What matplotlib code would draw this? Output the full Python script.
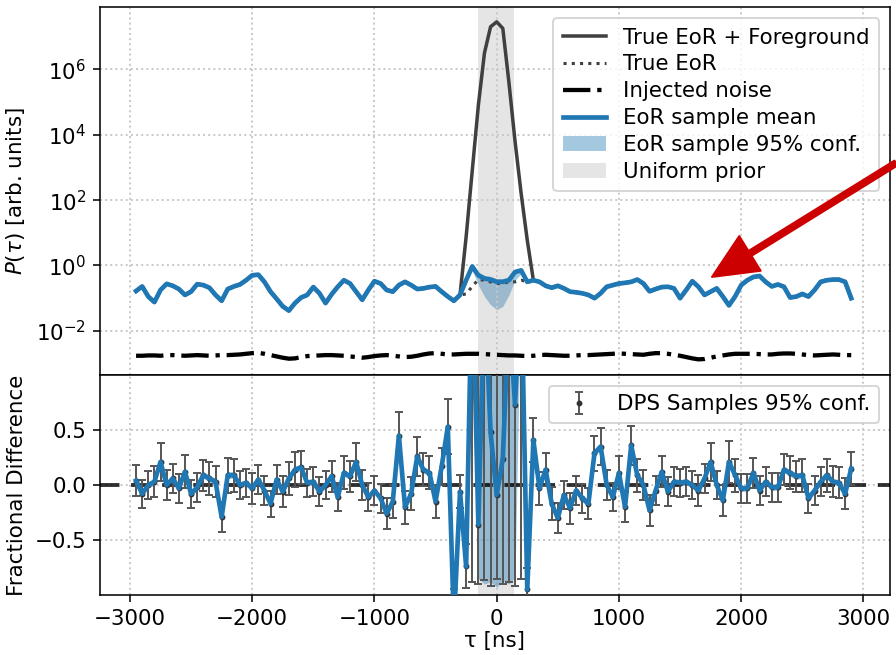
import numpy as np
import matplotlib
matplotlib.use("Agg")
import matplotlib.pyplot as plt
from matplotlib.ticker import NullLocator

plt.rcParams['font.size'] = 11

# delay grid (ns)
tau = np.arange(-2950, 2901, 50)

# log10 of the EoR sample mean power
mean_log = np.array([
    -0.78, -0.64, -0.95, -1.12, -0.75, -0.56, -0.62, -0.72, -0.9, -0.8,
    -0.57, -0.6, -0.68, -0.9, -1.08, -0.72, -0.64, -0.58, -0.45, -0.3,
    -0.28, -0.5, -0.8, -1.02, -1.25, -1.38, -1.15, -0.98, -0.9, -0.66,
    -0.85, -1.15, -0.88, -0.65, -0.45, -0.55, -0.8, -1.05, -0.75, -0.48,
    -0.55, -0.75, -0.8, -0.6, -0.5, -0.6, -0.72, -0.7, -0.66, -0.64,
    -0.8, -0.95, -1.08, -0.9, -0.45, -0.03, -0.3, -0.4, -0.43, -0.5,
    -0.5, -0.45, -0.2, -0.15, -0.5, -0.45, -0.5, -0.62, -0.68, -0.62,
    -0.7, -0.8, -0.82, -0.85, -0.9, -1.0, -0.85, -0.65, -0.6, -0.55,
    -0.53, -0.5, -0.43, -0.55, -0.79, -0.72, -0.66, -0.65, -0.7, -1.0,
    -0.75, -0.48, -0.65, -0.9, -0.8, -0.7, -0.95, -1.22, -0.95, -0.6,
    -0.45, -0.35, -0.32, -0.5, -0.64, -0.58, -0.65, -0.98, -0.95, -0.87,
    -0.95, -0.75, -0.5, -0.45, -0.43, -0.43, -0.5, -1.0])

# true EoR follows the mean except inside the foreground window
true_log = mean_log.copy()
true_log[53:65] = [-0.9, -0.87, -0.64, -0.43, -0.45, -0.5, -0.55,
                   -0.55, -0.5, -0.5, -0.45, -0.5]

# foreground (log10) for tau -250 .. 250
fg_tau = np.arange(-250, 251, 50)
fg_log = np.array([0.87, 2.9, 4.9, 6.5, 7.3, 7.45, 7.25, 5.6, 3.8, 2.2, 0.75])

noise_log = np.array([
    -2.76, -2.76, -2.75, -2.75, -2.76, -2.74, -2.74, -2.75, -2.76, -2.75,
    -2.74, -2.75, -2.76, -2.75, -2.74, -2.74, -2.73, -2.72, -2.7, -2.68,
    -2.67, -2.7, -2.74, -2.78, -2.82, -2.85, -2.84, -2.8, -2.77, -2.76,
    -2.75, -2.74, -2.74, -2.75, -2.76, -2.78, -2.8, -2.82, -2.8, -2.77,
    -2.75, -2.74, -2.76, -2.78, -2.8, -2.79, -2.76, -2.72, -2.69, -2.68,
    -2.7, -2.72, -2.72, -2.71, -2.7, -2.7, -2.7, -2.71, -2.72, -2.73,
    -2.74, -2.75, -2.75, -2.76, -2.77, -2.76, -2.74, -2.73, -2.74, -2.75,
    -2.76, -2.76, -2.75, -2.74, -2.74, -2.73, -2.72, -2.71, -2.7, -2.69,
    -2.7, -2.71, -2.72, -2.73, -2.7, -2.68, -2.68, -2.7, -2.73, -2.76,
    -2.8, -2.84, -2.87, -2.86, -2.82, -2.78, -2.75, -2.72, -2.7, -2.7,
    -2.7, -2.7, -2.71, -2.72, -2.72, -2.7, -2.69, -2.69, -2.7, -2.72,
    -2.74, -2.75, -2.74, -2.73, -2.72, -2.73, -2.74, -2.74])

# 95% band of the samples (log10), wide only near tau = 0
conf_tau = np.arange(-200, 201, 50)
conf_lo_c = np.array([-0.15, -0.6, -0.95, -1.2, -1.35, -1.25, -0.9, -0.45, -0.25])
conf_hi_c = np.array([0.08, -0.2, -0.3, -0.33, -0.4, -0.4, -0.35, -0.1, -0.08])
conf_half = 0.05

prior_lo, prior_hi = -155, 140

# fractional difference (bottom panel)
frac = np.array([
    0.04, -0.08, 0.0, 0.03, 0.21, 0.0, 0.06, -0.03, 0.12, -0.08,
    -0.02, 0.09, 0.06, 0.03, -0.29, 0.09, 0.09, 0.0, 0.02, -0.03,
    0.05, -0.05, -0.17, 0.05, -0.06, 0.06, 0.14, 0.16, 0.02, 0.03,
    -0.06, 0.0, 0.08, -0.11, 0.11, 0.08, 0.21, 0.0, -0.11, -0.05,
    -0.12, -0.26, -0.15, 0.45, -0.2, -0.08, 0.26, 0.14, 0.11, -0.15,
    0.17, 0.53, -1.25, -0.06, -0.74, 2.0, -0.36, 1.8, 0.48, -0.09,
    0.24, 1.6, 0.73, 1.9, -0.95, 0.41, -0.03, 0.14, -0.17, -0.3,
    -0.09, -0.21, -0.05, -0.12, -0.17, 0.29, 0.35, 0.0, -0.11, 0.11,
    -0.2, 0.36, 0.09, 0.0, -0.23, -0.05, 0.12, -0.06, 0.03, 0.02,
    0.03, 0.0, -0.05, 0.06, 0.21, 0.0, -0.14, 0.21, 0.09, -0.03,
    -0.03, 0.11, -0.05, 0.03, -0.02, -0.02, 0.14, 0.11, 0.08, 0.09,
    -0.12, -0.05, 0.03, 0.09, 0.03, 0.02, -0.08, 0.15])

frac_err = np.array([
    0.14, 0.13, 0.13, 0.14, 0.17, 0.14, 0.13, 0.13, 0.15, 0.13,
    0.13, 0.14, 0.15, 0.14, 0.14, 0.16, 0.15, 0.13, 0.13, 0.14,
    0.13, 0.13, 0.12, 0.13, 0.14, 0.15, 0.16, 0.15, 0.13, 0.13,
    0.13, 0.13, 0.14, 0.13, 0.15, 0.14, 0.17, 0.14, 0.13, 0.13,
    0.13, 0.14, 0.15, 0.21, 0.15, 0.15, 0.18, 0.15, 0.15, 0.15,
    0.17, 0.25, 0.3, 0.15, 0.2, 0.2, 0.2, 0.2, 0.2, 0.2,
    0.2, 0.2, 0.2, 0.2, 0.2, 0.2, 0.15, 0.15, 0.15, 0.14,
    0.13, 0.14, 0.13, 0.13, 0.14, 0.16, 0.17, 0.14, 0.13, 0.15,
    0.14, 0.18, 0.15, 0.14, 0.14, 0.13, 0.14, 0.13, 0.13, 0.13,
    0.13, 0.13, 0.14, 0.13, 0.17, 0.13, 0.14, 0.19, 0.15, 0.13,
    0.13, 0.14, 0.13, 0.13, 0.13, 0.13, 0.14, 0.15, 0.14, 0.15,
    0.13, 0.13, 0.13, 0.15, 0.14, 0.14, 0.14, 0.15])

# DPS error bar bounds near tau = 0 (tau -200 .. 200)
dps_tau = np.arange(-200, 201, 50)
dps_lo_c = np.array([-0.88, -0.9, -0.86, -0.92, -0.85, -0.9, -0.88, -0.92, -0.85])
dps_hi_c = np.array([2.5, 1.5, 2.5, 2.0, 1.5, 1.8, 2.5, 2.2, 2.5])

# sample band in the fractional panel near tau = 0 (tau -150 .. 150)
fband_tau = np.arange(-150, 151, 50)
fband_lo_c = np.array([-0.85, -0.9, -0.88, -0.93, -0.87, -0.9, -0.84])
fband_hi_c = np.array([3.0, 3.0, 3.0, 3.0, 3.0, 3.0, 3.0])
fband_half = 0.03

# ---- assemble ----
mean_p = 10 ** mean_log
true_p = 10 ** true_log
fg_p = np.zeros_like(mean_p)
fg_p[np.isin(tau, fg_tau)] = 10 ** fg_log
total_p = true_p + fg_p
noise_p = 10 ** noise_log

conf_lo = mean_log - conf_half
conf_hi = mean_log + conf_half
m = np.isin(tau, conf_tau)
conf_lo[m] = conf_lo_c
conf_hi[m] = conf_hi_c

err_lo = frac_err.copy()
err_hi = frac_err.copy()
m = np.isin(tau, dps_tau)
err_lo[m] = frac[m] - dps_lo_c
err_hi[m] = dps_hi_c - frac[m]

fb_lo = frac - fband_half
fb_hi = frac + fband_half
m = np.isin(tau, fband_tau)
fb_lo[m] = fband_lo_c
fb_hi[m] = fband_hi_c

fig, (ax1, ax2) = plt.subplots(2, 1, sharex=True, figsize=(6.4, 4.679), dpi=140,
                               gridspec_kw={'height_ratios': [368, 220], 'hspace': 0})
fig.subplots_adjust(left=0.1116, right=0.993, top=0.989, bottom=0.0916)

blue = '#1f77b4'

ax1.plot(tau, total_p, color='#404040', lw=1.8, label='True EoR + Foreground')
ax1.plot(tau, true_p, color='#404040', ls=':', lw=1.6, label='True EoR')
ax1.plot(tau, noise_p, color='k', ls='-.', lw=2.2, label='Injected noise')
ax1.plot(tau, mean_p, color=blue, lw=2.4, label='EoR sample mean')
ax1.fill_between(tau, 10 ** conf_lo, 10 ** conf_hi, color=blue, alpha=0.4,
                 lw=0, label='EoR sample 95% conf.')
ax1.axvspan(prior_lo, prior_hi, color='gray', alpha=0.2, lw=0, label='Uniform prior')
ax1.set_yscale('log')
ax1.set_ylim(10 ** -3.35, 10 ** 7.9)
ax1.set_yticks([1e-2, 1e0, 1e2, 1e4, 1e6])
ax1.yaxis.set_minor_locator(NullLocator())
ax1.set_ylabel(r'$P(\tau)$ [arb. units]')
ax1.grid(True, ls=':', lw=1.0, color='#c8c8c8')
ax1.legend(loc='upper right', fontsize=11, labelspacing=0.32, handlelength=2.0,
           borderpad=0.45, borderaxespad=0.5)
ax1.tick_params(axis='x', length=0)

ax2.axvspan(prior_lo, prior_hi, color='gray', alpha=0.2, lw=0)
ax2.fill_between(tau, fb_lo, fb_hi, color=blue, alpha=0.4, lw=0, zorder=2)
ax2.axhline(0, color='k', ls=(0, (5, 3)), lw=2.0, alpha=0.8, zorder=2.5)
ax2.errorbar(tau, frac, yerr=[err_lo, err_hi], fmt='.', color='#333333', ecolor='#555555',
             elinewidth=1.0, capsize=2, ms=4, zorder=3, label='DPS Samples 95% conf.')
ax2.plot(tau, frac, color=blue, lw=2.4, zorder=4)
ax2.set_ylim(-1, 1)
ax2.set_yticks([-0.5, 0.0, 0.5])
ax2.set_xlim(-3245, 3215)
ax2.set_xticks([-3000, -2000, -1000, 0, 1000, 2000, 3000])
ax2.set_xlabel('τ [ns]', labelpad=1)
ax2.set_ylabel('Fractional Difference')
ax2.grid(True, ls=':', lw=1.0, color='#c8c8c8')
ax2.legend(loc='upper right', fontsize=11, borderaxespad=0.5)

# red pointer arrow coming in from the right edge
fig.add_artist(matplotlib.patches.FancyArrowPatch(
    (1.0, 0.751), (0.7946, 0.5771), transform=fig.transFigure,
    arrowstyle='simple,head_length=2.3,head_width=2.1,tail_width=0.3',
    mutation_scale=10, color='#cc0000', shrinkA=0, shrinkB=0, zorder=10))

fig.align_ylabels([ax1, ax2])
fig.savefig('out.png', dpi=140)
